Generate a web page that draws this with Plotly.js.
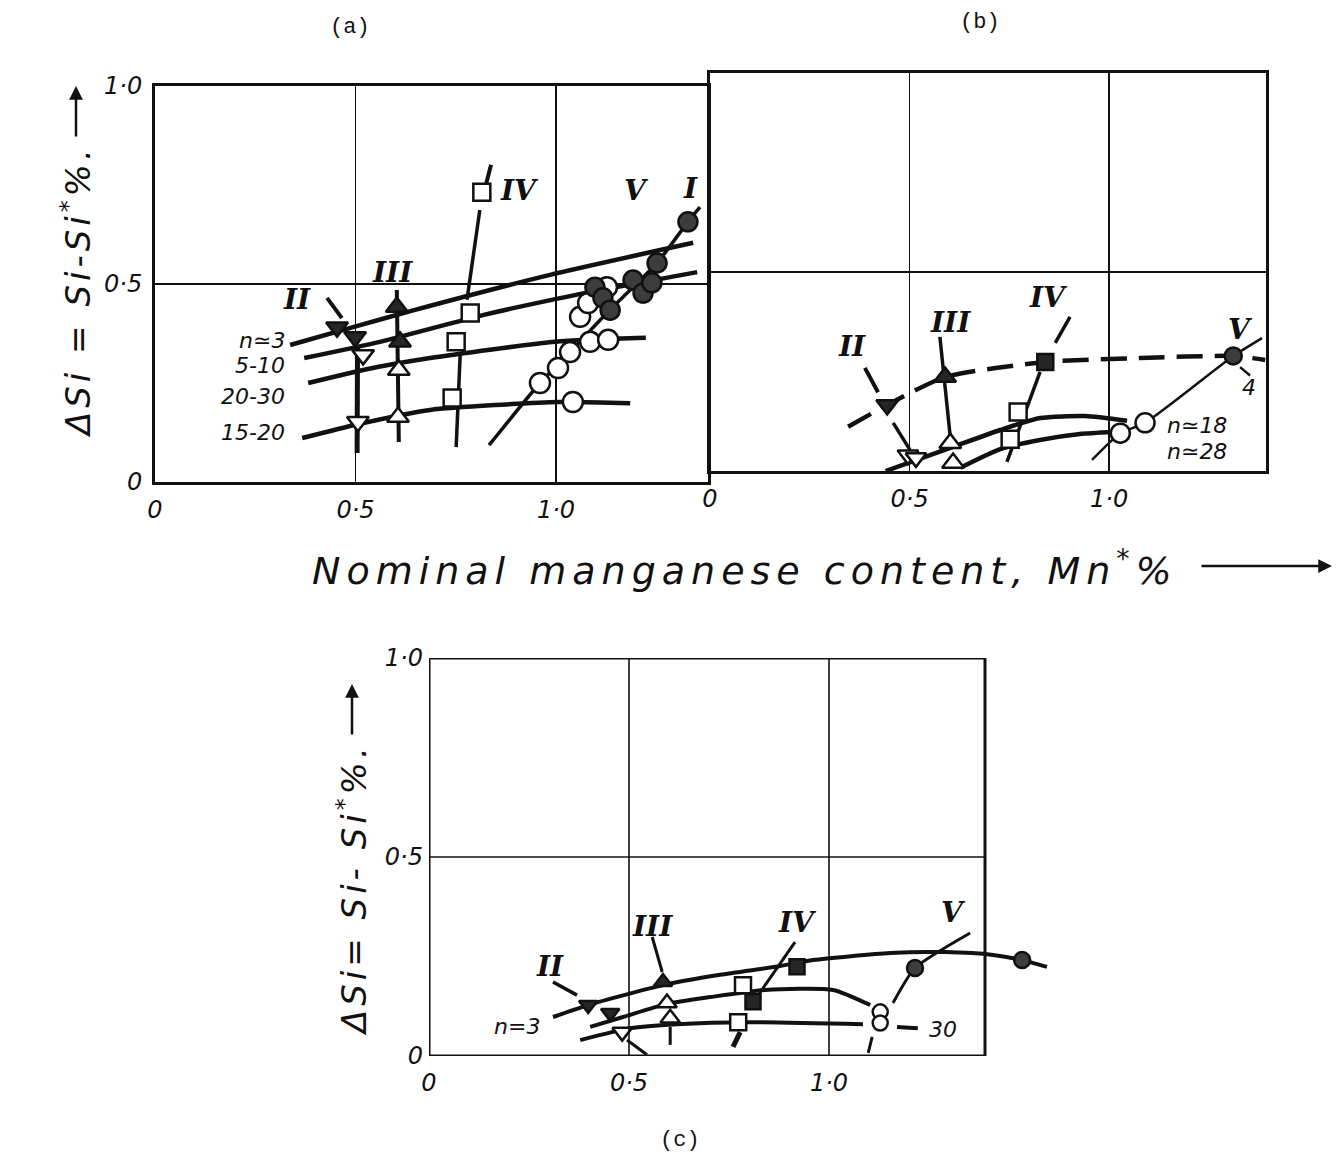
<!DOCTYPE html>
<html>
<head>
<meta charset="utf-8">
<script src="https://cdn.plot.ly/plotly-3.0.1.min.js"></script>
<style>html,body{margin:0;padding:0;background:#fff}</style>
</head>
<body>
<div id="chart" style="width:1341px;height:1159px"></div>
<script>
// ---------- Panel (a) ----------
const aN3X    = [0.337, 0.494, 0.646, 0.985, 1.342];
const aN3Y    = [0.346, 0.391, 0.434, 0.523, 0.604];
const aN510X  = [0.372, 0.561, 0.820, 1.047, 1.352];
const aN510Y  = [0.313, 0.354, 0.422, 0.472, 0.530];
const aN2030X = [0.382, 0.519, 0.686, 0.998, 1.224];
const aN2030Y = [0.250, 0.283, 0.313, 0.354, 0.364];
const aN1520X = [0.367, 0.506, 0.686, 1.007, 1.185];
const aN1520Y = [0.111, 0.146, 0.182, 0.202, 0.199];
const aVX = [0.833, 0.960, 1.035, 1.110, 1.160, 1.252, 1.329, 1.359];
const aVY = [0.093, 0.250, 0.328, 0.409, 0.460, 0.553, 0.657, 0.694];

const aIILeadX  = [0.429, 0.466], aIILeadY  = [0.465, 0.414];
const aIIDropX  = [0.505, 0.504], aIIDropY  = [0.346, 0.073];
const aIIIDropX = [0.603, 0.608], aIIIDropY = [0.485, 0.101];
const aIVStubX  = [0.838, 0.825], aIVStubY  = [0.801, 0.750];
const aIVLeadX  = [0.810, 0.778], aIVLeadY  = [0.687, 0.460];
const aIVDropX  = [0.761, 0.751], aIVDropY  = [0.321, 0.088];

const aIIFilledX = [0.454, 0.499], aIIFilledY = [0.391, 0.366];
const aIIOpenX   = [0.519, 0.506], aIIOpenY   = [0.321, 0.152];
const aIIIFilledX = [0.603, 0.611], aIIIFilledY = [0.442, 0.354];
const aIIIOpenX   = [0.608, 0.606], aIIIOpenY   = [0.283, 0.164];
const aIVOpenX = [0.815, 0.786, 0.751, 0.741];
const aIVOpenY = [0.732, 0.427, 0.354, 0.212];
const aVOpenX = [0.960, 1.005, 1.035, 1.085, 1.130, 1.060, 1.080, 1.127, 1.042];
const aVOpenY = [0.250, 0.288, 0.328, 0.354, 0.359, 0.417, 0.452, 0.492, 0.202];
const aIFilledX = [1.097, 1.117, 1.135, 1.192, 1.217, 1.239, 1.252, 1.329];
const aIFilledY = [0.492, 0.465, 0.434, 0.510, 0.477, 0.503, 0.553, 0.657];

// ---------- Panel (b) ----------
const bUpperX = [0.346, 0.444, 0.589, 0.840, 1.078, 1.311, 1.391];
const bUpperY = [0.111, 0.166, 0.236, 0.274, 0.284, 0.289, 0.279];
const bN18X = [0.440, 0.602, 0.727, 0.827, 0.940, 1.045];
const bN18Y = [0.000, 0.058, 0.103, 0.133, 0.138, 0.126];
const bN28X = [0.627, 0.727, 0.827, 0.927, 1.010];
const bN28Y = [0.008, 0.055, 0.078, 0.093, 0.098];
const bVX = [0.957, 1.028, 1.090, 1.311, 1.383];
const bVY = [0.028, 0.095, 0.121, 0.289, 0.334];

const bIILeadX  = [0.388, 0.421], bIILeadY  = [0.259, 0.198];
const bIIDropX  = [0.459, 0.501], bIIDropY  = [0.121, 0.053];
const bIIILeadX = [0.576, 0.602], bIIILeadY = [0.337, 0.085];
const bIVLeadX  = [0.902, 0.865], bIVLeadY  = [0.387, 0.322];
const bIVDropX  = [0.827, 0.744], bIVDropY  = [0.249, 0.023];
const bV4LeadX  = [1.328, 1.353], bV4LeadY  = [0.261, 0.240];

const bIIFilledX = [0.444], bIIFilledY = [0.166];
const bIIOpenX   = [0.496, 0.516], bIIOpenY = [0.040, 0.033];
const bIIIFilledX = [0.589], bIIIFilledY = [0.236];
const bIIIOpenX   = [0.602, 0.609], bIIIOpenY = [0.070, 0.020];
const bIVFilledX = [0.840], bIVFilledY = [0.274];
const bIVOpenX   = [0.772, 0.752], bIVOpenY = [0.148, 0.080];
const bVFilledX = [1.311], bVFilledY = [0.289];
const bVOpenX   = [1.028, 1.090], bVOpenY = [0.095, 0.121];

// ---------- Panel (c) ----------
const cUpperX = [0.310, 0.398, 0.585, 0.728, 0.878, 0.960, 1.153, 1.290, 1.410, 1.483, 1.545];
const cUpperY = [0.098, 0.128, 0.178, 0.204, 0.226, 0.241, 0.259, 0.261, 0.254, 0.241, 0.224];
const cMidX = [0.403, 0.485, 0.595, 0.703, 0.840, 1.010, 1.103];
const cMidY = [0.073, 0.098, 0.131, 0.148, 0.166, 0.166, 0.128];
const cLowX = [0.378, 0.503, 0.620, 0.803, 1.085];
const cLowY = [0.040, 0.070, 0.080, 0.085, 0.080];
const cVX = [1.160, 1.215, 1.353];
const cVY = [0.133, 0.221, 0.309];

const cIILeadX  = [0.310, 0.370], cIILeadY  = [0.186, 0.153];
const cIIDropX  = [0.495, 0.545], cIIDropY  = [0.040, 0.003];
const cIIILeadX = [0.558, 0.583], cIIILeadY = [0.299, 0.211];
const cIIIDropX = [0.603, 0.603], cIIIDropY = [0.073, 0.028];
const cIVLeadX  = [0.915, 0.823], cIVLeadY  = [0.286, 0.153];
const cIVStubX  = [0.760, 0.778], cIVStubY  = [0.023, 0.060];
const cOStemX   = [1.108, 1.098], cOStemY   = [0.048, 0.008];
const c30LeadX  = [1.170, 1.222], c30LeadY  = [0.073, 0.070];

const cIIFilledX = [0.398, 0.453], cIIFilledY = [0.128, 0.108];
const cIIOpenX   = [0.483], cIIOpenY = [0.060];
const cIIIFilledX = [0.585], cIIIFilledY = [0.186];
const cIIIOpenX   = [0.595, 0.603], cIIIOpenY = [0.133, 0.095];
const cIVFilledX = [0.920, 0.810], cIVFilledY = [0.224, 0.136];
const cIVOpenX   = [0.785, 0.773], cIVOpenY = [0.178, 0.085];
const cVFilledX = [1.215, 1.483], cVFilledY = [0.221, 0.241];
const cVOpenX   = [1.128, 1.128], cVOpenY = [0.111, 0.083];

// tick labels
const tickVals = [0, 0.5, 1.0];
const tickText = ['0', '0·5', '1·0'];

// ---------- helpers ----------
const INK = '#111';
const FILL = '#262626';
const STIPPLE = '#3c3c3c';
const traces = [];
function line(xs, ys, ax, width, dash) {
  traces.push({x: xs, y: ys, xaxis: ax[0], yaxis: ax[1], mode: 'lines',
    line: {color: INK, width: width, dash: dash || 'solid', shape: 'spline', smoothing: 0.6},
    hoverinfo: 'skip'});
}
function pts(xs, ys, ax, symbol, fill, size) {
  traces.push({x: xs, y: ys, xaxis: ax[0], yaxis: ax[1], mode: 'markers', cliponaxis: false,
    marker: {symbol: symbol, size: size, color: fill || '#fff',
             line: {color: INK, width: 2.5}},
    hoverinfo: 'skip'});
}
const A = ['x', 'y'], B = ['x2', 'y2'], C = ['x3', 'y3'];

// panel (a) lines
line(aN3X, aN3Y, A, 4.5); line(aN510X, aN510Y, A, 4.5);
line(aN2030X, aN2030Y, A, 4.5); line(aN1520X, aN1520Y, A, 4.5);
line(aVX, aVY, A, 3.5);
line(aIILeadX, aIILeadY, A, 4); line(aIIDropX, aIIDropY, A, 5);
line(aIIIDropX, aIIIDropY, A, 4); line(aIVStubX, aIVStubY, A, 4);
line(aIVLeadX, aIVLeadY, A, 3.5); line(aIVDropX, aIVDropY, A, 3.5);
// panel (b) lines
line(bUpperX, bUpperY, B, 4.5, '26px,12px');
line(bN18X, bN18Y, B, 4.5); line(bN28X, bN28Y, B, 4.5);
line(bVX, bVY, B, 2.5);
line(bIILeadX, bIILeadY, B, 4); line(bIIDropX, bIIDropY, B, 3.5);
line(bIIILeadX, bIIILeadY, B, 3.5); line(bIVLeadX, bIVLeadY, B, 3.5);
line(bIVDropX, bIVDropY, B, 3.5); line(bV4LeadX, bV4LeadY, B, 2.5);
// panel (c) lines
line(cUpperX, cUpperY, C, 4); line(cMidX, cMidY, C, 4); line(cLowX, cLowY, C, 4);
line(cVX, cVY, C, 3);
line(cIILeadX, cIILeadY, C, 3.5); line(cIIDropX, cIIDropY, C, 3);
line(cIIILeadX, cIIILeadY, C, 3); line(cIIIDropX, cIIIDropY, C, 3);
line(cIVLeadX, cIVLeadY, C, 3); line(cIVStubX, cIVStubY, C, 5);
line(cOStemX, cOStemY, C, 3); line(c30LeadX, c30LeadY, C, 4);

// panel (a) points
pts(aIIFilledX, aIIFilledY, A, 'triangle-down', FILL, 19);
pts(aIIOpenX, aIIOpenY, A, 'triangle-down', null, 19);
pts(aIIIFilledX, aIIIFilledY, A, 'triangle-up', FILL, 19);
pts(aIIIOpenX, aIIIOpenY, A, 'triangle-up', null, 19);
pts(aIVOpenX, aIVOpenY, A, 'square', null, 17);
pts(aVOpenX, aVOpenY, A, 'circle', null, 20);
pts(aIFilledX, aIFilledY, A, 'circle', STIPPLE, 19);
// panel (b) points
pts(bIIFilledX, bIIFilledY, B, 'triangle-down', FILL, 19);
pts(bIIOpenX, bIIOpenY, B, 'triangle-down', null, 18);
pts(bIIIFilledX, bIIIFilledY, B, 'triangle-up', FILL, 19);
pts(bIIIOpenX, bIIIOpenY, B, 'triangle-up', null, 19);
pts(bIVFilledX, bIVFilledY, B, 'square', FILL, 16);
pts(bIVOpenX, bIVOpenY, B, 'square', null, 17);
pts(bVOpenX, bVOpenY, B, 'circle', null, 19);
pts(bVFilledX, bVFilledY, B, 'circle', STIPPLE, 17);
// panel (c) points
pts(cIIFilledX, cIIFilledY, C, 'triangle-down', FILL, 16);
pts(cIIOpenX, cIIOpenY, C, 'triangle-down', null, 17);
pts(cIIIFilledX, cIIIFilledY, C, 'triangle-up', FILL, 16);
pts(cIIIOpenX, cIIIOpenY, C, 'triangle-up', null, 17);
pts(cIVOpenX, cIVOpenY, C, 'square', null, 16);
pts(cIVFilledX, cIVFilledY, C, 'square', FILL, 15);
pts(cVOpenX, cVOpenY, C, 'circle', null, 15);
pts(cVFilledX, cVFilledY, C, 'circle', STIPPLE, 16);

// ---------- axes ----------
const tickFont = {family: 'DejaVu Sans', size: 24, color: INK, style: 'italic'};
function xAx(domain, range, anchor, framed, standoff) {
  return {domain: domain, range: range, anchor: anchor, tickvals: tickVals, ticktext: tickText,
    tickfont: tickFont, ticks: '', zeroline: false, showgrid: framed, gridcolor: INK, gridwidth: 1.6,
    showline: framed, mirror: framed, linecolor: INK, linewidth: 3, ticklabelstandoff: standoff,
    fixedrange: true};
}
function yAx(domain, anchor, framed, labels) {
  return {domain: domain, range: [0, 1], anchor: anchor, tickvals: tickVals, ticktext: tickText,
    tickfont: tickFont, ticks: '', zeroline: false, showgrid: framed, gridcolor: INK, gridwidth: 1.6,
    showline: framed, mirror: framed, linecolor: INK, linewidth: 3, showticklabels: labels,
    ticklabelstandoff: 5, fixedrange: true};
}

const W = 1341, H = 1159;
const px = v => v / W, py = v => 1 - v / H;

// frame and grid of panel (c) are drawn as shapes so the curve can run past the frame
const cFrameRight = 1.39;
const shapes = [
  {type: 'rect', xref: 'x3', yref: 'y3', x0: 0, x1: cFrameRight, y0: 0, y1: 1, line: {color: INK, width: 3}},
  {type: 'line', xref: 'x3', yref: 'y3', x0: 0.5, x1: 0.5, y0: 0, y1: 1, line: {color: INK, width: 1.6}},
  {type: 'line', xref: 'x3', yref: 'y3', x0: 1.0, x1: 1.0, y0: 0, y1: 1, line: {color: INK, width: 1.6}},
  {type: 'line', xref: 'x3', yref: 'y3', x0: 0, x1: cFrameRight, y0: 0.5, y1: 0.5, line: {color: INK, width: 1.6}}
];

const roman = {family: 'DejaVu Serif', size: 28, color: INK, weight: 'bold', style: 'italic'};
const note = {family: 'DejaVu Sans', size: 22, color: INK, style: 'italic'};
function lab(text, x, y, ax, font, xanchor) {
  return {text: text, x: x, y: y, xref: ax[0], yref: ax[1], showarrow: false,
          font: font, xanchor: xanchor || 'center', yanchor: 'middle'};
}
function paperText(text, x, y, font, angle) {
  return {text: text, x: px(x), y: py(y), xref: 'paper', yref: 'paper', showarrow: false,
          xanchor: 'center', yanchor: 'middle', textangle: angle || 0, font: font};
}
function paperArrow(x, y, ax, ay) {
  return {text: '', x: px(x), y: py(y), xref: 'paper', yref: 'paper', showarrow: true,
          ax: ax, ay: ay, arrowhead: 2, arrowsize: 1.1, arrowwidth: 2.5, arrowcolor: INK, standoff: 0};
}
const mono = {family: 'Liberation Mono', size: 22, color: INK};
const titleFont = {family: 'DejaVu Sans', size: 34, color: INK, style: 'italic'};
const xTitleFont = {family: 'DejaVu Sans', size: 38, color: INK, style: 'italic'};

const annotations = [
  // panel (a)
  lab('II', 0.355, 0.462, A, roman), lab('III', 0.592, 0.530, A, roman),
  lab('IV', 0.910, 0.735, A, roman), lab('V', 1.200, 0.735, A, roman), lab('I', 1.336, 0.742, A, roman),
  lab('n≃3', 0.330, 0.357, A, note, 'right'), lab('5-10', 0.330, 0.295, A, note, 'right'),
  lab('20-30', 0.330, 0.215, A, note, 'right'), lab('15-20', 0.330, 0.124, A, note, 'right'),
  // panel (b)
  lab('II', 0.356, 0.312, B, roman), lab('III', 0.602, 0.372, B, roman),
  lab('IV', 0.847, 0.436, B, roman), lab('V', 1.329, 0.355, B, roman),
  lab('4', 1.350, 0.210, B, note),
  lab('n≃18', 1.220, 0.114, B, note), lab('n≃28', 1.220, 0.050, B, note),
  // panel (c)
  lab('II', 0.302, 0.225, C, roman), lab('III', 0.558, 0.325, C, roman),
  lab('IV', 0.920, 0.335, C, roman), lab('V', 1.310, 0.360, C, roman),
  lab('n=3', 0.220, 0.073, C, note), lab('30', 1.285, 0.066, C, note),
  // panel letters
  paperText('(a)', 350, 28, mono), paperText('(b)', 980, 22, mono), paperText('(c)', 680, 1140, mono),
  // axis titles and their arrows
  paperText('ΔSi = Si-Si<sup>*</sup>%.', 76, 292, titleFont, -90),
  paperArrow(76, 86, 0, 52),
  paperText('ΔSi= Si- Si<sup>*</sup>%.', 352, 890, titleFont, -90),
  paperArrow(352, 684, 0, 52),
  paperText('Nominal manganese content, Mn<sup>*</sup>%', 745, 568, xTitleFont),
  paperArrow(1332, 566, -132, 0)
];

const layout = {
  width: W, height: H, margin: {l: 0, r: 0, t: 0, b: 0},
  paper_bgcolor: '#fff', plot_bgcolor: 'rgba(0,0,0,0)', showlegend: false,
  xaxis:  xAx([px(155), px(708)], [0, 1.379], 'y', true, 4),
  yaxis:  yAx([py(482), py(86)], 'x', true, true),
  xaxis2: xAx([px(710), px(1266)], [0, 1.393], 'y2', true, 4),
  yaxis2: yAx([py(471), py(73)], 'x2', true, false),
  xaxis3: xAx([px(429), px(1061)], [0, 1.58], 'y3', false, 10),
  yaxis3: yAx([py(1056), py(658)], 'x3', false, true),
  shapes: shapes, annotations: annotations
};

Plotly.newPlot('chart', traces, layout, {staticPlot: true, displayModeBar: false}).then(() => {
  // the axis titles are set with widely spaced lettering
  document.querySelectorAll('#chart .annotation-text').forEach(t => {
    const s = t.textContent;
    if (s.startsWith('Nominal')) t.style.letterSpacing = '6px';
    else if (s.startsWith('ΔSi')) t.style.letterSpacing = '4px';
  });
});
</script>
</body>
</html>
